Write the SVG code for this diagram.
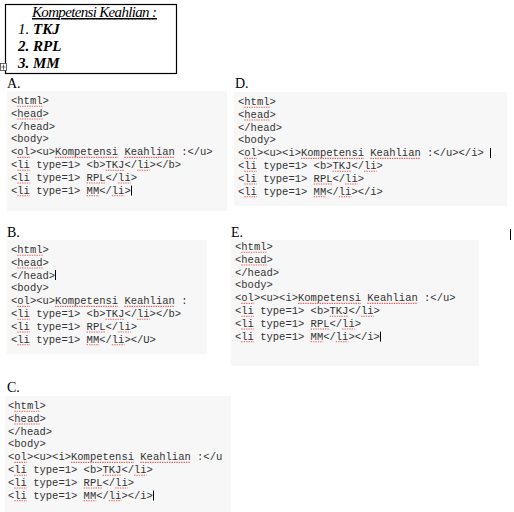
<svg xmlns="http://www.w3.org/2000/svg" width="514" height="512" viewBox="0 0 514 512">
<style>
.lbl{font-family:"Liberation Serif",serif;font-size:14px;fill:#000}
.code{font-family:"Liberation Mono",monospace;font-size:10.5px;fill:#333}
.pan{fill:#f7f7f7}
.sp{stroke:#e06060;stroke-width:1.1;stroke-dasharray:1.4 1;fill:none}
.cur{stroke:#000;stroke-width:1}
.top{font-family:"Liberation Serif",serif;font-size:15px;font-style:italic;fill:#000}
</style>
<rect width="514" height="512" fill="#fff"/>
<g id="heading">
<rect x="5.5" y="4.5" width="171" height="69" fill="#fff" stroke="#000" stroke-width="1.2"/>
<text class="top" x="32" y="17" text-decoration="underline" textLength="125">Kompetensi Keahlian :</text>
<text class="top" x="18" y="34">1. <tspan font-weight="bold">TKJ</tspan></text>
<text class="top" x="18" y="51" font-weight="bold">2. RPL</text>
<text class="top" x="18" y="68" font-weight="bold">3. MM</text>
<g id="move-icon" stroke="#444" stroke-width="0.8" fill="none">
<rect x="0.5" y="63.5" width="6" height="7" fill="#fff"/>
<path d="M3.5 64.5v5M1.5 67h4"/>
</g>
</g>

<g id="optA">
<text class="lbl" x="7" y="88">A.</text>
<rect class="pan" x="7" y="91" width="220" height="120"/>
<g transform="translate(11,104)">
<text class="code" y="0">&lt;html&gt;</text>
<text class="code" y="12.8">&lt;head&gt;</text>
<text class="code" y="25.6">&lt;/head&gt;</text>
<text class="code" y="38.4">&lt;body&gt;</text>
<text class="code" y="51.2">&lt;ol&gt;&lt;u&gt;Kompetensi Keahlian :&lt;/u&gt;</text>
<text class="code" y="64">&lt;li type=1&gt; &lt;b&gt;TKJ&lt;/li&gt;&lt;/b&gt;</text>
<text class="code" y="76.8">&lt;li type=1&gt; RPL&lt;/li&gt;</text>
<text class="code" y="89.6">&lt;li type=1&gt; MM&lt;/li&gt;</text>
<path class="sp" d="M6.3 2.2h25.2M6.3 15h25.2M6.3 53.4h12.6M44.1 53.4h63M113.4 53.4h50.4M6.3 66.2h12.6M94.5 66.2h18.9M126 66.2h12.6M6.3 79h12.6M75.6 79h18.9M107.1 79h12.6M6.3 91.8h12.6M75.6 91.8h12.6M100.8 91.8h12.6"/>
<path class="cur" d="M120.5 81.6v10"/>
</g>
</g>

<g id="optD">
<text class="lbl" x="235" y="88">D.</text>
<rect class="pan" x="234" y="92" width="273" height="114"/>
<g transform="translate(238,105)">
<text class="code" y="0">&lt;html&gt;</text>
<text class="code" y="12.8">&lt;head&gt;</text>
<text class="code" y="25.6">&lt;/head&gt;</text>
<text class="code" y="38.4">&lt;body&gt;</text>
<text class="code" y="51.2">&lt;ol&gt;&lt;u&gt;&lt;i&gt;Kompetensi Keahlian :&lt;/u&gt;&lt;/i&gt;</text>
<text class="code" y="64">&lt;li type=1&gt; &lt;b&gt;TKJ&lt;/li&gt;</text>
<text class="code" y="76.8">&lt;li type=1&gt; RPL&lt;/li&gt;</text>
<text class="code" y="89.6">&lt;li type=1&gt; MM&lt;/li&gt;&lt;/i&gt;</text>
<path class="sp" d="M6.3 2.2h25.2M6.3 15h25.2M6.3 53.4h12.6M63 53.4h63M132.3 53.4h50.4M6.3 66.2h12.6M94.5 66.2h18.9M126 66.2h12.6M6.3 79h12.6M75.6 79h18.9M107.1 79h12.6M6.3 91.8h12.6M75.6 91.8h12.6M100.8 91.8h12.6"/>
<path class="cur" d="M252.5 43v10"/>
</g>
</g>

<g id="optB">
<text class="lbl" x="7" y="237">B.</text>
<rect class="pan" x="7" y="240" width="200" height="114"/>
<g transform="translate(11,253)">
<text class="code" y="0">&lt;html&gt;</text>
<text class="code" y="12.8">&lt;head&gt;</text>
<text class="code" y="25.6">&lt;/head&gt;</text>
<text class="code" y="38.4">&lt;body&gt;</text>
<text class="code" y="51.2">&lt;ol&gt;&lt;u&gt;Kompetensi Keahlian :</text>
<text class="code" y="64">&lt;li type=1&gt; &lt;b&gt;TKJ&lt;/li&gt;&lt;/b&gt;</text>
<text class="code" y="76.8">&lt;li type=1&gt; RPL&lt;/li&gt;</text>
<text class="code" y="89.6">&lt;li type=1&gt; MM&lt;/li&gt;&lt;/U&gt;</text>
<path class="sp" d="M6.3 2.2h25.2M6.3 15h25.2M6.3 53.4h12.6M44.1 53.4h63M113.4 53.4h50.4M6.3 66.2h12.6M94.5 66.2h18.9M126 66.2h12.6M6.3 79h12.6M75.6 79h18.9M107.1 79h12.6M6.3 91.8h12.6M75.6 91.8h12.6M100.8 91.8h12.6"/>
<path class="cur" d="M44.5 17v10"/>
</g>
</g>

<g id="optE">
<text class="lbl" x="231" y="237">E.</text>
<rect class="pan" x="231" y="240" width="248" height="126"/>
<g transform="translate(235,250)">
<text class="code" y="0">&lt;html&gt;</text>
<text class="code" y="12.8">&lt;head&gt;</text>
<text class="code" y="25.6">&lt;/head&gt;</text>
<text class="code" y="38.4">&lt;body&gt;</text>
<text class="code" y="51.2">&lt;ol&gt;&lt;u&gt;&lt;i&gt;Kompetensi Keahlian :&lt;/u&gt;</text>
<text class="code" y="64">&lt;li type=1&gt; &lt;b&gt;TKJ&lt;/li&gt;</text>
<text class="code" y="76.8">&lt;li type=1&gt; RPL&lt;/li&gt;</text>
<text class="code" y="89.6">&lt;li type=1&gt; MM&lt;/li&gt;&lt;/i&gt;</text>
<path class="sp" d="M6.3 2.2h25.2M6.3 15h25.2M6.3 53.4h12.6M63 53.4h63M132.3 53.4h50.4M6.3 66.2h12.6M94.5 66.2h18.9M126 66.2h12.6M6.3 79h12.6M75.6 79h18.9M107.1 79h12.6M6.3 91.8h12.6M75.6 91.8h12.6M100.8 91.8h12.6"/>
<path class="cur" d="M145.5 81.6v10"/>
</g>
</g>
<path class="cur" d="M510.5 229v11"/>

<g id="optC">
<text class="lbl" x="7" y="392">C.</text>
<rect class="pan" x="5" y="396" width="226" height="116"/>
<g transform="translate(8,409)">
<text class="code" y="0">&lt;html&gt;</text>
<text class="code" y="12.8">&lt;head&gt;</text>
<text class="code" y="25.6">&lt;/head&gt;</text>
<text class="code" y="38.4">&lt;body&gt;</text>
<text class="code" y="51.2">&lt;ol&gt;&lt;u&gt;&lt;i&gt;Kompetensi Keahlian :&lt;/u</text>
<text class="code" y="64">&lt;li type=1&gt; &lt;b&gt;TKJ&lt;/li&gt;</text>
<text class="code" y="76.8">&lt;li type=1&gt; RPL&lt;/li&gt;</text>
<text class="code" y="89.6">&lt;li type=1&gt; MM&lt;/li&gt;&lt;/i&gt;</text>
<path class="sp" d="M6.3 2.2h25.2M6.3 15h25.2M6.3 53.4h12.6M63 53.4h63M132.3 53.4h50.4M6.3 66.2h12.6M94.5 66.2h18.9M126 66.2h12.6M6.3 79h12.6M75.6 79h18.9M107.1 79h12.6M6.3 91.8h12.6M75.6 91.8h12.6M100.8 91.8h12.6"/>
<path class="cur" d="M145.5 81.6v10"/>
</g>
</g>
</svg>
